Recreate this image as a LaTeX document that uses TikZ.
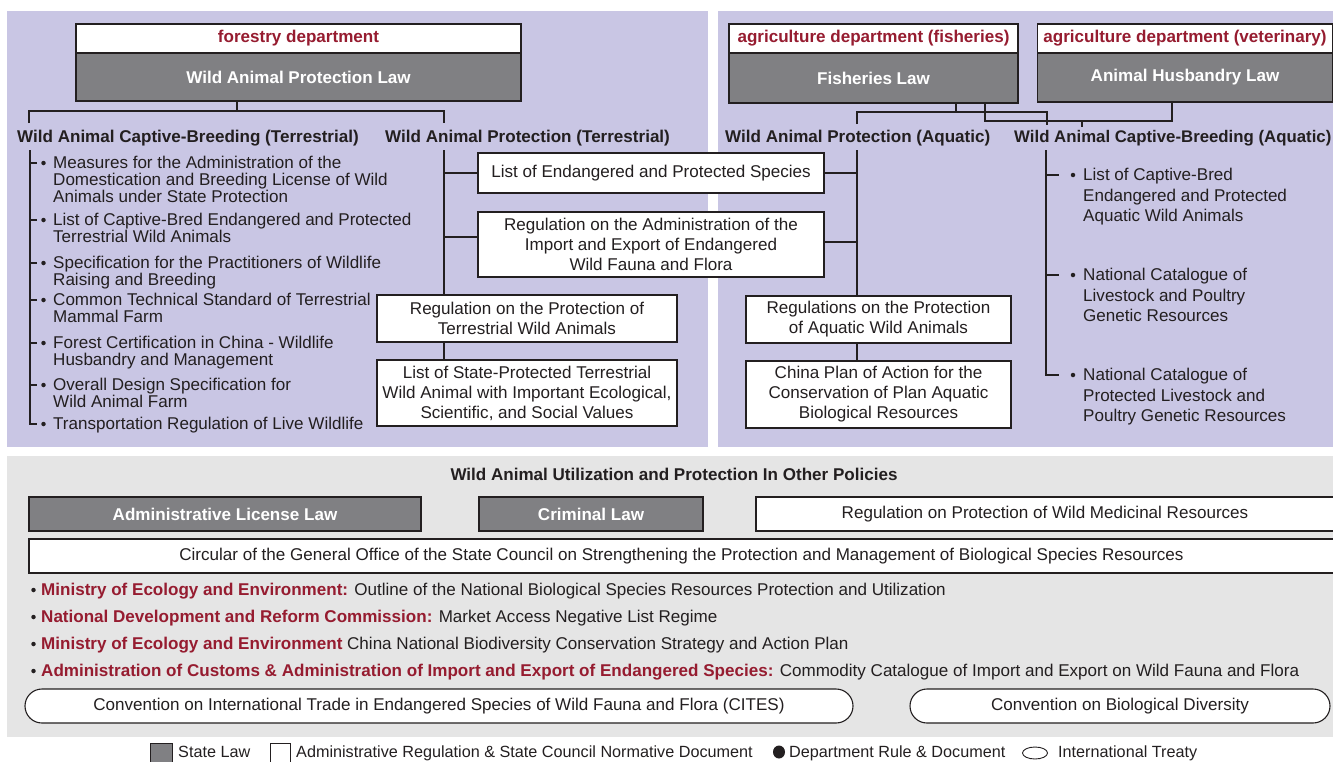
\documentclass[tikz,border=0pt]{standalone}
\usepackage{fontspec}
\setmainfont{Liberation Sans}
\definecolor{lav}{RGB}{201,198,228}
\definecolor{panelgray}{RGB}{229,229,229}
\definecolor{lawgray}{RGB}{128,128,131}
\definecolor{deptred}{RGB}{150,28,48}
\definecolor{ink}{RGB}{35,31,32}
\begin{document}
\begin{tikzpicture}[x=1pt,y=-1pt,
  every node/.style={font=\fontsize{17.05}{17}\selectfont, inner sep=0pt, text=ink},
  box/.style={draw=ink, line width=1.1pt},
  dept/.style={box, fill=white, text=deptred, font=\fontsize{17.05}{20}\selectfont\bfseries},
  law/.style={box, fill=lawgray, text=white, font=\fontsize{17.05}{20}\selectfont\bfseries},
  reg/.style={box, fill=white, align=center, font=\fontsize{17.05}{20}\selectfont},
  hdr/.style={anchor=base west, font=\fontsize{17.05}{20}\selectfont\bfseries},
  item/.style={anchor=north west, align=left},
  ritem/.style={anchor=north west, align=left, font=\fontsize{17.05}{20.5}\selectfont},
  bline/.style={anchor=base west},
  legtext/.style={anchor=base west, font=\fontsize{16.2}{18}\selectfont},
  conn/.style={draw=ink, line width=1.6pt},
  dot/.style={circle, fill=ink, minimum size=4.5pt, inner sep=0pt},
  treaty/.style={box, fill=white, rounded corners=17pt}
]
\useasboundingbox (0,0) rectangle (1333,761);
% panels
\fill[lav] (7,11) rectangle (708,447);
\fill[lav] (718,11) rectangle (1333,447);
\fill[panelgray] (7,456) rectangle (1333,737);

% ---------------- left panel ----------------
\node[dept, minimum width=445pt, minimum height=29pt] (fd) at (298.5,38.5) {forestry department};
\node[law, minimum width=445pt, minimum height=48pt] (wapl) at (298.5,77) {Wild Animal Protection Law};
\node[hdr] (hcbt) at (17,142) {Wild Animal Captive-Breeding (Terrestrial)};
\node[hdr] (hpt) at (385,142) {Wild Animal Protection (Terrestrial)};
\draw[conn] (237,0 |- wapl.south) -- (237,111);
\draw[conn] (29,123) -- (29,111) -- (444,111) -- (444,123);

% captive breeding list
\node[item] (l1) at (53,156) {Measures for the Administration of the\\Domestication and Breeding License of Wild\\Animals under State Protection};
\node[item] (l2) at (53,213) {List of Captive-Bred Endangered and Protected\\Terrestrial Wild Animals};
\node[item] (l3) at (53,256) {Specification for the Practitioners of Wildlife\\Raising and Breeding};
\node[item] (l4) at (53,293) {Common Technical Standard of Terrestrial\\Mammal Farm};
\node[item] (l5) at (53,336) {Forest Certification in China - Wildlife\\Husbandry and Management};
\node[item] (l6) at (53,378) {Overall Design Specification for\\Wild Animal Farm};
\node[item] (l7) at (53,417) {Transportation Regulation of Live Wildlife};
\draw[conn] (30,150) -- (30,424) -- (37,424);
\foreach \n/\y in {l1/163,l2/220,l3/263,l4/300,l5/343,l6/385,l7/424}{
  \draw[conn] (30,\y) -- (37,\y);
  \node[dot] at (43.5,\y) {};
}

% protection (terrestrial)
\node[reg, minimum width=346pt, minimum height=40pt] (les) at (651,173) {List of Endangered and Protected Species};
\node[reg, minimum width=346pt, minimum height=65pt] (raie) at (651,244.5) {Regulation on the Administration of the\\Import and Export of Endangered\\Wild Fauna and Flora};
\node[reg, minimum width=300pt, minimum height=47pt] (rptwa) at (527,318.5) {Regulation on the Protection of\\Terrestrial Wild Animals};
\node[reg, minimum width=300pt, minimum height=66pt] (lspt) at (527,393) {List of State-Protected Terrestrial\\Wild Animal with Important Ecological,\\Scientific, and Social Values};
\draw[conn] (444,150) -- (444,0 |- rptwa.north);
\draw[conn] (444,173) -- (les.west);
\draw[conn] (444,237) -- (raie.west |- 0,237);
\draw[conn] (444,0 |- rptwa.south) -- (444,0 |- lspt.north);

% ---------------- right panel ----------------
\node[dept, minimum width=289pt, minimum height=29pt] (fad) at (873.5,38.5) {agriculture department (fisheries)};
\node[law, minimum width=289pt, minimum height=50pt] (fl) at (873.5,78) {Fisheries Law};
\node[dept, minimum width=295pt, minimum height=29pt] (vad) at (1185,38.5) {agriculture department (veterinary)};
\node[law, minimum width=295pt, minimum height=49pt] (ahl) at (1185,77.5) {Animal Husbandry Law};
\node[hdr] (hpa) at (725,142) {Wild Animal Protection (Aquatic)};
\node[hdr, font=\fontsize{16.8}{20}\selectfont\bfseries] (hcba) at (1014,142) {Wild Animal Captive-Breeding (Aquatic)};
\draw[conn] (956,0 |- fl.south) -- (956,112);
\draw[conn] (857,124) -- (857,112) -- (1047,112) -- (1047,125);
\draw[conn] (985,0 |- fl.south) -- (985,121) -- (1172,121) -- (1172,0 |- ahl.south);
\draw[conn] (1082,121) -- (1082,127);

\node[reg, minimum width=265pt, minimum height=47pt] (rpawa) at (878.5,319.5) {Regulations on the Protection\\of Aquatic Wild Animals};
\node[reg, minimum width=265pt, minimum height=67pt] (cpa) at (878.5,394.5) {China Plan of Action for the\\Conservation of Plan Aquatic\\Biological Resources};
\draw[conn] (857,150) -- (857,0 |- rpawa.north);
\draw[conn] (les.east) -- (857,173);
\draw[conn] (raie.east |- 0,242) -- (857,242);
\draw[conn] (857,0 |- rpawa.south) -- (857,0 |- cpa.north);

\node[ritem] (r1) at (1083,168) {List of Captive-Bred\\Endangered and Protected\\Aquatic Wild Animals};
\node[ritem] (r2) at (1083,268) {National Catalogue of\\Livestock and Poultry\\Genetic Resources};
\node[ritem] (r3) at (1083,368) {National Catalogue of\\Protected Livestock and\\Poultry Genetic Resources};
\draw[conn] (1046,150) -- (1046,375) -- (1059,375);
\foreach \n/\y in {r1/175,r2/275,r3/375}{
  \draw[conn] (1046,\y) -- (1059,\y);
  \node[dot] at (1073,\y) {};
}

% ---------------- bottom panel ----------------
\node[font=\fontsize{17.05}{20}\selectfont\bfseries] (ttl) at (674,474) {Wild Animal Utilization and Protection In Other Policies};
\node[law, minimum width=392pt, minimum height=34pt] (all) at (225,514) {Administrative License Law};
\node[law, minimum width=224pt, minimum height=34pt] (cl) at (591,514) {Criminal Law};
\node[reg, minimum width=578pt, minimum height=34pt] (rpw) at (1045,514) {Regulation on Protection of Wild Medicinal Resources};
\node[reg, minimum width=1305pt, minimum height=34pt] (circ) at (681.5,556) {Circular of the General Office of the State Council on Strengthening the Protection and Management of Biological Species Resources};

\node[bline] (b1) at (41,595.5) {\textcolor{deptred}{\bfseries Ministry of Ecology and Environment:} Outline of the National Biological Species Resources Protection and Utilization};
\node[bline] (b2) at (41,622.5) {\textcolor{deptred}{\bfseries National Development and Reform Commission:} Market Access Negative List Regime};
\node[bline] (b3) at (41,649.5) {\textcolor{deptred}{\bfseries Ministry of Ecology and Environment} China National Biodiversity Conservation Strategy and Action Plan};
\node[bline] (b4) at (41,676.5) {\textcolor{deptred}{\bfseries Administration of Customs \& Administration of Import and Export of Endangered Species:} Commodity Catalogue of Import and Export on Wild Fauna and Flora};
\foreach \y in {590,617,644,671}{ \node[dot] at (33.5,\y) {}; }

\node[treaty, minimum width=828pt, minimum height=34pt] (cites) at (439,706) {Convention on International Trade in Endangered Species of Wild Fauna and Flora (CITES)};
\node[treaty, minimum width=420pt, minimum height=34pt] (cbd) at (1120,706) {Convention on Biological Diversity};

% ---------------- legend ----------------
\draw[draw=ink, fill=lawgray, line width=0.8pt] (150,743) rectangle (172,764);
\node[legtext] (lg1) at (178,757.5) {State Law};
\draw[draw=ink, fill=white, line width=0.8pt] (270,743) rectangle (290,764);
\node[legtext] (lg2) at (296,757.5) {Administrative Regulation \& State Council Normative Document};
\fill[ink] (779,752) ellipse [x radius=6pt, y radius=6.5pt];
\node[legtext] (lg3) at (789,757.5) {Department Rule \& Document};
\draw[ink, line width=0.9pt] (1035,753) ellipse [x radius=12.5pt, y radius=6pt];
\node[legtext] (lg4) at (1058,757.5) {International Treaty};
\end{tikzpicture}
\end{document}
